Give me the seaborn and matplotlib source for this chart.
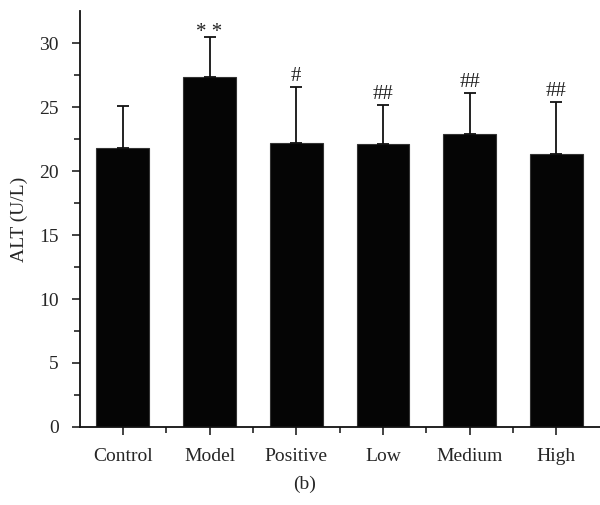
import pandas as pd
import matplotlib.pyplot as plt
import seaborn as sns

# group means and SD
groups = ["Control", "Model", "Positive", "Low", "Medium", "High"]
alt_mean = [21.8, 27.35, 22.2, 22.15, 22.9, 21.35]
alt_sd = [3.3, 3.15, 4.4, 3.05, 3.2, 4.05]
marks = ["", "* *", "#", "##", "##", "##"]

df = pd.DataFrame({"group": groups, "alt": alt_mean, "sd": alt_sd})

sns.set_style("ticks")
plt.rcParams["font.family"] = ["Liberation Serif", "DejaVu Serif"]

fig = plt.figure(figsize=(6, 5.05), dpi=100)
ax = fig.add_axes([0.1325, 0.1545, 0.867, 0.8235])

sns.barplot(data=df, x="group", y="alt", color="#050505", edgecolor="#333333",
            linewidth=0.8, width=0.61, saturation=1, errorbar=None, ax=ax)

# upper-only error bars
ax.errorbar(range(len(groups)), df["alt"], yerr=[[0] * len(groups), df["sd"]],
            fmt="none", ecolor="#111111", elinewidth=1.3, capsize=4, capthick=1.3)

# significance marks (asterisks sit high in the glyph box, so less lift)
for i, (m, s, t) in enumerate(zip(alt_mean, alt_sd, marks)):
    if not t:
        continue
    lift = 0.0 if "*" in t else 0.45
    ax.text(i, m + s + lift, t, ha="center", va="baseline", fontsize=15, color="#222222")

ax.set_xlim(-0.5, 5.5)
ax.set_ylim(0, 32.5)
ax.set_yticks([0, 5, 10, 15, 20, 25, 30])
ax.set_yticks([2.5, 7.5, 12.5, 17.5, 22.5, 27.5], minor=True)
ax.set_xticks([0.5, 1.5, 2.5, 3.5, 4.5], minor=True)
ax.tick_params(axis="both", which="major", direction="out", length=6, width=1.2,
               labelsize=14, color="#222222")
ax.tick_params(axis="both", which="minor", direction="out", length=4, width=1.2,
               color="#222222")
ax.tick_params(axis="x", which="major", pad=9)
ax.tick_params(axis="y", which="major", pad=9)

sns.despine(ax=ax)
for s in ["left", "bottom"]:
    ax.spines[s].set_linewidth(1.3)
    ax.spines[s].set_color("#111111")

ax.set_xlabel("")
ax.set_ylabel("ALT (U/L)", fontsize=14, labelpad=8)
fig.text(0.508, 0.04, "(b)", ha="center", va="center", fontsize=14)

fig.savefig("out.png", dpi=100)
